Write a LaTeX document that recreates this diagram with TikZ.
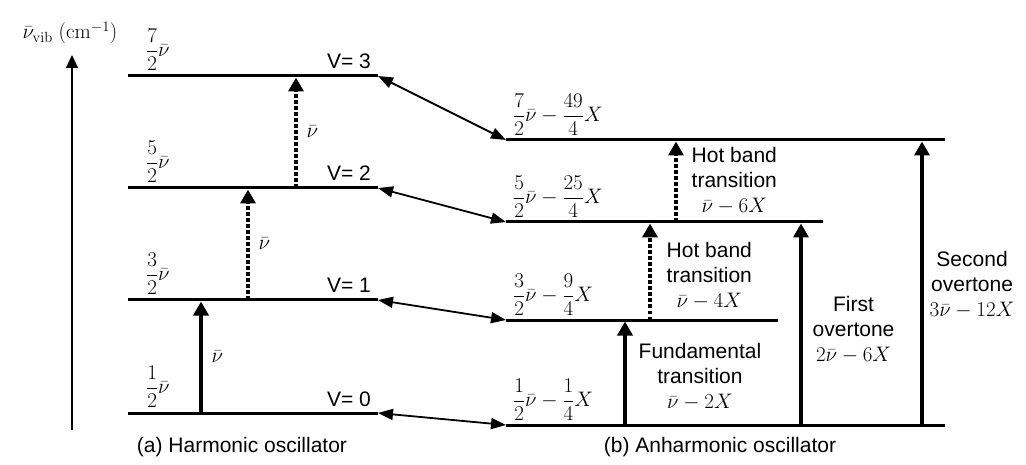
\RequirePackage{fix-cm}
\documentclass[tikz,border=0pt]{standalone}
\usepackage{amsmath}
\usepackage[no-math]{fontspec}
\setmainfont{Liberation Sans}
\usetikzlibrary{arrows.meta}

\begin{document}
\begin{tikzpicture}[font=\fontsize{21}{25}\selectfont,
 level/.style={line width=3pt},
 upjump/.style={line width=3.4pt,-{Triangle[width=15pt,length=14pt]},shorten >=1.5pt},
 hotjump/.style={upjump,dash pattern=on 3.5pt off 2.5pt},
 pairlink/.style={line width=1.8pt,{Triangle[width=11pt,length=15pt]}-{Triangle[width=11pt,length=15pt]}},
 vibaxis/.style={line width=1.2pt,-{Triangle[width=12pt,length=13pt]}},
 energy/.style={anchor=south west,inner sep=0pt},
 vlab/.style={anchor=base east,inner sep=0pt},
 nulab/.style={right,inner sep=0pt,xshift=9pt},
 jumplab/.style={right,align=center,inner sep=0pt}]
\useasboundingbox (0pt,0pt) rectangle (1026pt,-465pt);

% vertical axis
\coordinate (axisBot) at (72pt,-430pt);
\coordinate (axisTop) at (72pt,-55pt);
\draw[vibaxis] (axisBot) -- (axisTop);
\node (axisLab) at (70pt,-33pt) {$\bar{\nu}_{\mathrm{vib}}\ (\mathrm{cm}^{-1})$};

% level lines, linked pairwise
\foreach \n/\yy/\ay/\xend in {0/-413/-425/945,1/-300/-320/778,2/-188/-222/823,3/-76/-140/945} {
 \coordinate (h\n L) at (128pt,\yy pt);
 \coordinate (h\n R) at (378pt,\yy pt);
 \coordinate (a\n L) at (506pt,\ay pt);
 \coordinate (a\n R) at (\xend pt,\ay pt);
 \draw[level] (h\n L) -- (h\n R);
 \draw[level] (a\n L) -- (a\n R);
 \draw[pairlink] (h\n R) -- (a\n L);
}

% harmonic labels
\node[vlab] (hv0) at (371pt,-406pt) {V= 0};
\node[vlab] (hv1) at (371pt,-293pt) {V= 1};
\node[vlab] (hv2) at (371pt,-181pt) {V= 2};
\node[vlab] (hv3) at (371pt,-69pt) {V= 3};
\node[energy] (he0) at (146pt,-408pt) {$\dfrac{1}{2}\bar{\nu}$};
\node[energy] (he1) at (146pt,-295pt) {$\dfrac{3}{2}\bar{\nu}$};
\node[energy] (he2) at (146pt,-183pt) {$\dfrac{5}{2}\bar{\nu}$};
\node[energy] (he3) at (146pt,-71pt) {$\dfrac{7}{2}\bar{\nu}$};

% anharmonic labels
\node[energy] (ae0) at (513pt,-421pt) {$\dfrac{1}{2}\bar{\nu}-\dfrac{1}{4}X$};
\node[energy] (ae1) at (513pt,-316pt) {$\dfrac{3}{2}\bar{\nu}-\dfrac{9}{4}X$};
\node[energy] (ae2) at (513pt,-218pt) {$\dfrac{5}{2}\bar{\nu}-\dfrac{25}{4}X$};
\node[energy] (ae3) at (513pt,-136pt) {$\dfrac{7}{2}\bar{\nu}-\dfrac{49}{4}X$};

% harmonic transitions
\coordinate (hxA) at (201pt,0pt);
\coordinate (hxB) at (248pt,0pt);
\coordinate (hxC) at (296pt,0pt);
\draw[upjump] (h0L -| hxA) -- (h1L -| hxA) node[nulab,midway] {$\bar{\nu}$};
\draw[hotjump] (h1L -| hxB) -- (h2L -| hxB) node[nulab,midway] {$\bar{\nu}$};
\draw[hotjump] (h2L -| hxC) -- (h3L -| hxC) node[nulab,midway] {$\bar{\nu}$};

% anharmonic transitions
\coordinate (axF) at (625pt,0pt);
\coordinate (axH1) at (650pt,0pt);
\coordinate (axH2) at (676pt,0pt);
\coordinate (axO1) at (801pt,0pt);
\coordinate (axO2) at (922pt,0pt);
\draw[upjump] (a0L -| axF) -- (a1L -| axF)
 node[jumplab,midway,xshift=12pt,yshift=-4.5pt] {Fundamental\\transition\\$\bar{\nu}-2X$};
\draw[hotjump] (a1L -| axH1) -- (a2L -| axH1)
 node[jumplab,midway,xshift=15pt,yshift=-5pt] {Hot band\\transition\\$\bar{\nu}-4X$};
\draw[hotjump] (a2L -| axH2) -- (a3L -| axH2)
 node[jumplab,midway,xshift=14pt] {Hot band\\transition\\$\bar{\nu}-6X$};
\draw[upjump] (a0L -| axO1) -- (a2L -| axO1)
 node[jumplab,midway,xshift=10pt,yshift=-6pt] {First\\overtone\\$2\bar{\nu}-6X$};
\draw[upjump] (a0L -| axO2) -- (a3L -| axO2)
 node[jumplab,midway,xshift=6pt,yshift=-2pt] {Second\\overtone\\$3\bar{\nu}-12X$};

% captions
\node (capA) at (242pt,-447pt) {(a) Harmonic oscillator};
\node (capB) at (720pt,-447pt) {(b) Anharmonic oscillator};
\end{tikzpicture}
\end{document}
